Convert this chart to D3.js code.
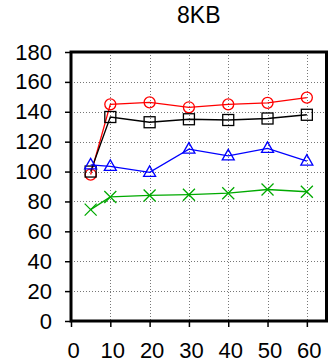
<!DOCTYPE html>
<html>
<head>
<meta charset="utf-8">
<script src="https://cdn.jsdelivr.net/npm/d3@7"></script>
<style>
  html, body { margin: 0; padding: 0; background: #fff; }
  svg { display: block; font-family: "Liberation Sans", Arial, sans-serif; }
</style>
</head>
<body>
<svg id="chart" width="329" height="364"></svg>
<script>
// Throughput per buffer-count setting, 8KB block size
const title = "8KB";
const xValues = [5, 10, 20, 30, 40, 50, 60];
const xTicks = [0, 10, 20, 30, 40, 50, 60];
const yTicks = [0, 20, 40, 60, 80, 100, 120, 140, 160, 180];

const redCircle   = [98, 145, 146.3, 143, 145, 146, 149.5];
const blackSquare = [100, 136.5, 133, 135, 134.5, 135.5, 138];
const blueTriangle = [104.5, 103.5, 99.5, 115, 110.5, 115.5, 107];
const greenCross  = [74.5, 83, 84, 84.5, 85.5, 88, 86.5];

const series = [
  { name: "circle", color: "#ff0000", values: redCircle },
  { name: "square", color: "#000000", values: blackSquare },
  { name: "triangle", color: "#0000ff", values: blueTriangle },
  { name: "cross", color: "#00aa00", values: greenCross }
];

const svg = d3.select("#chart");
const plotLeft = 71, plotRight = 326.5, plotTop = 52, plotBottom = 321;

const x = d3.scaleLinear().domain([0, 65]).range([plotLeft, plotRight]);
const y = d3.scaleLinear().domain([0, 180]).range([plotBottom, plotTop]);

// grid
const grid = svg.append("g").attr("stroke", "#777").attr("stroke-width", 1)
  .attr("stroke-dasharray", "1,2");
grid.selectAll("line.h").data(yTicks.filter(d => d > 0 && d < 180)).join("line")
  .attr("x1", plotLeft).attr("x2", plotRight)
  .attr("y1", d => Math.round(y(d)) + 0.5).attr("y2", d => Math.round(y(d)) + 0.5);
grid.selectAll("line.v").data(xTicks.filter(d => d > 0)).join("line")
  .attr("y1", plotTop).attr("y2", plotBottom)
  .attr("x1", d => Math.round(x(d)) + 0.5).attr("x2", d => Math.round(x(d)) + 0.5);

// axes
const yAxis = d3.axisLeft(y).tickValues(yTicks).tickSize(6).tickPadding(13).tickSizeOuter(0);
const gy = svg.append("g").attr("transform", `translate(${plotLeft},0)`).call(yAxis);
gy.select(".domain").remove();
gy.selectAll("text").attr("font-size", 22).attr("fill", "#000")
  .attr("font-family", "Liberation Sans, Arial, sans-serif");
gy.selectAll("line").attr("stroke", "#000").attr("stroke-width", 1.5);

const xAxis = d3.axisBottom(x).tickValues(xTicks).tickSize(6).tickPadding(15).tickSizeOuter(0);
const gx = svg.append("g").attr("transform", `translate(0,${plotBottom})`).call(xAxis);
gx.select(".domain").remove();
gx.selectAll("text").attr("font-size", 22).attr("fill", "#000").attr("dx", 2)
  .attr("font-family", "Liberation Sans, Arial, sans-serif");
gx.selectAll("line").attr("stroke", "#000").attr("stroke-width", 1.5);

// frame
svg.append("rect").attr("x", plotLeft).attr("y", plotTop)
  .attr("width", plotRight - plotLeft).attr("height", plotBottom - plotTop)
  .attr("fill", "none").attr("stroke", "#000").attr("stroke-width", 3);

// title
svg.append("text").attr("x", (plotLeft + plotRight) / 2).attr("y", 23)
  .attr("text-anchor", "middle").attr("font-size", 23).text(title);

// lines and markers
const line = d3.line().x((d, i) => x(xValues[i])).y(d => y(d));
series.forEach(s => {
  const g = svg.append("g");
  g.append("path").datum(s.values).attr("d", line)
    .attr("fill", "none").attr("stroke", s.color).attr("stroke-width", 1.3);
  const pts = g.selectAll("g.m").data(s.values).join("g")
    .attr("transform", (d, i) => `translate(${x(xValues[i])},${y(d)})`)
    .attr("fill", "none").attr("stroke", s.color).attr("stroke-width", 1.3);
  if (s.name === "circle") {
    pts.append("circle").attr("r", 5.5);
  } else if (s.name === "square") {
    pts.append("rect").attr("x", -5.5).attr("y", -5.5).attr("width", 11).attr("height", 11);
  } else if (s.name === "triangle") {
    pts.append("path").attr("d", "M0,-6.5L6,4L-6,4Z");
  } else {
    pts.append("path").attr("d", "M-6,-6L6,6M-6,6L6,-6");
  }
});
</script>
</body>
</html>
